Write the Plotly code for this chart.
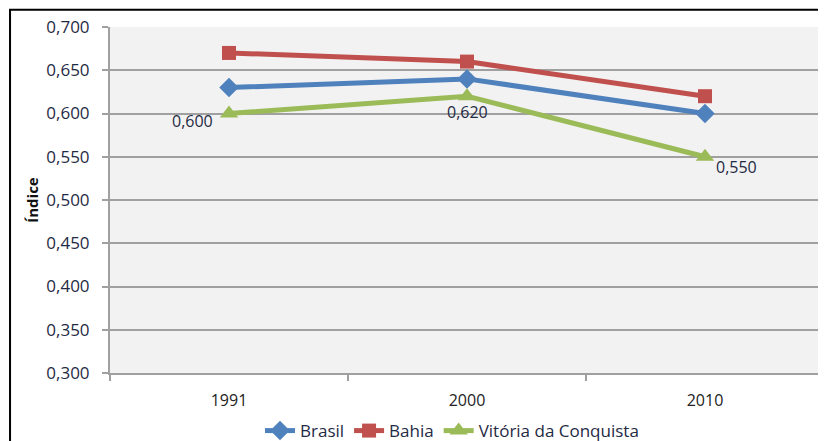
import plotly.graph_objects as go

years = ["1991", "2000", "2010"]
brasil = [0.630, 0.640, 0.600]
bahia = [0.670, 0.660, 0.620]
vitoria = [0.600, 0.620, 0.550]
vitoria_labels = ["0,600", "0,620", "0,550"]
y_ticks = [0.300, 0.350, 0.400, 0.450, 0.500, 0.550, 0.600, 0.650, 0.700]

font_fam = "Open Sans, Liberation Sans, sans-serif"
txt_col = "#1f2a44"
fs = 16

fig = go.Figure()
fig.add_trace(go.Scatter(x=years, y=brasil, name="Brasil", mode="lines+markers",
                         line=dict(color="#4F81BD", width=5),
                         marker=dict(symbol="diamond", size=15, color="#4F81BD")))
fig.add_trace(go.Scatter(x=years, y=bahia, name="Bahia", mode="lines+markers",
                         line=dict(color="#C0504D", width=5),
                         marker=dict(symbol="square", size=14, color="#C0504D")))
fig.add_trace(go.Scatter(x=years, y=vitoria, name="Vitória da Conquista", mode="lines+markers",
                         line=dict(color="#9BBB59", width=5),
                         marker=dict(symbol="triangle-up", size=16, color="#9BBB59")))

# data labels for Vitória da Conquista (x given as category index)
label_pos = [dict(xanchor="right", yanchor="middle", xshift=-14, yshift=-7),
             dict(xanchor="center", yanchor="middle", xshift=0, yshift=-16),
             dict(xanchor="left", yanchor="middle", xshift=9, yshift=-10)]
for i, (y, t, p) in enumerate(zip(vitoria, vitoria_labels, label_pos)):
    fig.add_annotation(x=i, y=y, xref="x", yref="y", text=t, showarrow=False,
                       font=dict(size=fs, color=txt_col, family=font_fam), **p)

fig.update_layout(
    width=818, height=433,
    margin=dict(l=102, r=2, t=19, b=68),
    paper_bgcolor="white", plot_bgcolor="#f2f2f2",
    separators=", ",
    font=dict(family=font_fam, size=fs, color=txt_col),
    showlegend=True,
    legend=dict(orientation="h", x=0.479, xanchor="center",
                yref="container", y=0.023, yanchor="middle",
                font=dict(size=17, color=txt_col), tracegroupgap=0,
                bgcolor="rgba(0,0,0,0)"),
    xaxis=dict(type="category", range=[-0.5, 2.5], showgrid=False, automargin=False,
               showline=True, linecolor="#a0a0a0", linewidth=2,
               ticks="outside", tickson="boundaries", ticklen=6, tickcolor="#a0a0a0", tickwidth=2,
               ticklabelstandoff=12,
               tickfont=dict(size=fs, color="#222222")),
    yaxis=dict(range=[0.300, 0.700], tickvals=y_ticks, tickformat=".3f", automargin=False,
               showgrid=True, gridcolor="#a0a0a0", gridwidth=1.5,
               showline=True, linecolor="#a0a0a0", linewidth=2,
               ticks="outside", ticklen=6, tickcolor="#a0a0a0", tickwidth=2,
               ticklabelstandoff=9,
               zeroline=False,
               tickfont=dict(size=17, color=txt_col),
               title=dict(text="<b>Índice</b>", font=dict(size=15, color="#111111"), standoff=4)),
)

fig.add_shape(type="rect", xref="paper", yref="paper",
              x0=-0.14, x1=1.05, y0=-0.3, y1=1.05,
              line=dict(color="black", width=2), layer="below")

fig.write_html("out.html")
